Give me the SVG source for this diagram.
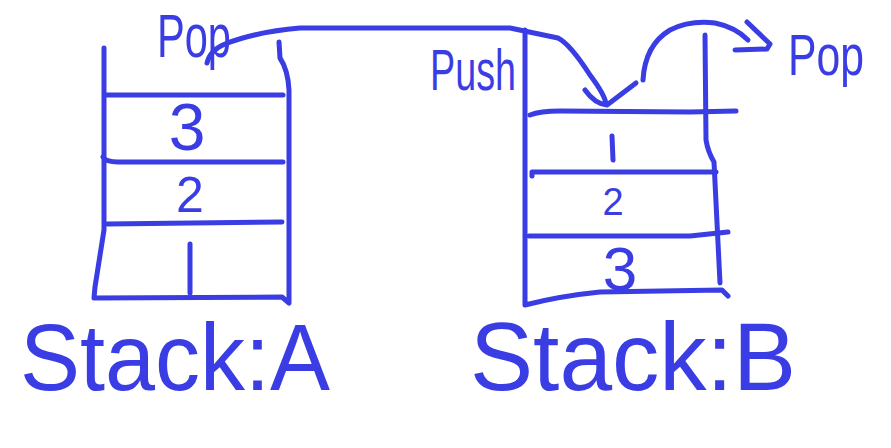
<svg xmlns="http://www.w3.org/2000/svg" width="891" height="448" viewBox="0 0 891 448">
<style>
.s{fill:none;stroke:#3a3de4;stroke-width:5;stroke-linecap:round;stroke-linejoin:round}
.t{fill:#3a3de4;font-family:"Liberation Sans","DejaVu Sans",sans-serif;text-anchor:middle}
</style>
<rect width="891" height="448" fill="#ffffff"/>
<g id="stackA">
<path class="s" d="M104 48 L104 230 L95 287 L94 298 L282 297 L289 303 L289 90 Q288 70 280 58 L279 42"/>
<path class="s" d="M107 95 L283 95"/>
<path class="s" d="M103 157 Q106 162 118 162 L283 162"/>
<path class="s" d="M107 224 L282 222"/>
<text class="t" x="187" y="150" font-size="66">3</text>
<text class="t" x="190" y="212" font-size="50">2</text>
<path class="s" d="M190 244 L190 293"/>
<text class="t" x="20" y="390" font-size="95" textLength="310" lengthAdjust="spacingAndGlyphs" style="text-anchor:start">Stack:A</text>
</g>
<g id="stackB">
<path class="s" d="M525 30 L525 305 Q560 296 600 292 L722 290 L728 296"/>
<path class="s" d="M705 35 L706 140 Q708 152 714 162 L720 283"/>
<path class="s" d="M530 115 Q540 111 560 111 L690 112 L736 111"/>
<path class="s" d="M532 176 L532 172 L716 172"/>
<path class="s" d="M529 236 L690 236 L728 232"/>
<path class="s" d="M612 136 L613 160"/>
<text class="t" x="613" y="215" font-size="38">2</text>
<text class="t" x="620" y="290" font-size="62">3</text>
<text class="t" x="470" y="390" font-size="97" textLength="326" lengthAdjust="spacingAndGlyphs" style="text-anchor:start">Stack:B</text>
</g>
<g id="labels">
<text class="t" x="194" y="57" font-size="62" textLength="74" lengthAdjust="spacingAndGlyphs">Pop</text>
<text class="t" x="473" y="90" font-size="58" textLength="86" lengthAdjust="spacingAndGlyphs">Push</text>
<text class="t" x="826" y="75" font-size="58" textLength="76" lengthAdjust="spacingAndGlyphs">Pop</text>
</g>
<g id="connectors">
<path class="s" d="M207 63 Q210 50 225 44 Q255 32 300 28 L510 28 L558 38 Q570 44 590 75 Q605 95 606 104"/>
<path class="s" d="M585 90 Q595 104 607 105 L636 83"/>
<path class="s" d="M643 80 Q645 45 670 30 Q690 20 715 23 Q735 27 748 40"/>
<path class="s" d="M747 22 L770 44 L767 49 L735 50"/>
</g>
</svg>
